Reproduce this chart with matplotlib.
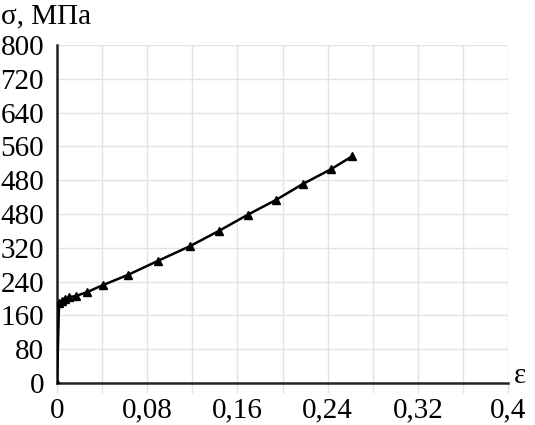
import matplotlib
matplotlib.use('Agg')
import matplotlib.pyplot as plt
import numpy as np

# strain / stress
strain = [0.0, 0.0018, 0.0044, 0.0071, 0.0106, 0.0168, 0.0266, 0.041, 0.063,
          0.0895, 0.118, 0.1436, 0.169, 0.194, 0.218, 0.243, 0.262]
stress = [0, 189, 194, 199, 203, 206, 215, 232, 256,
          289, 324, 360, 398, 433, 471, 506, 537]

y_ticks = [0, 80, 160, 240, 320, 400, 480, 560, 640, 720, 800]
# the source labels 400 as "480", kept as it is
y_labels = ['0', '80', '160', '240', '320', '480', '480', '560', '640', '720', '800']
x_ticks = [0, 0.08, 0.16, 0.24, 0.32, 0.4]
x_labels = ['0', '0,08', '0,16', '0,24', '0,32', '0,4']

plt.rcParams['font.family'] = ['Liberation Serif', 'DejaVu Serif']
fs = 21

fig = plt.figure(figsize=(5.35, 4.25), dpi=100)
ax = fig.add_axes([57 / 535, 1 - 383 / 425, 451 / 535, 338 / 425])

ax.plot(strain, stress, color='black', linewidth=1.8, marker='^',
        markersize=5.5, markerfacecolor='black', zorder=3)

ax.set_xlim(0, 0.4)
ax.set_ylim(0, 800)

ax.set_yticks(y_ticks)
ax.set_yticklabels(y_labels)
ax.set_xticks(x_ticks)
ax.set_xticklabels(x_labels)
ax.set_xticks(np.arange(0.04, 0.41, 0.08), minor=True)

# faint grid, vertical every 0.04, horizontal every 80
ax.grid(True, which='both', color='#e3e3e3', linewidth=1.0, zorder=0)
ax.set_axisbelow(True)

ax.tick_params(axis='y', length=0, pad=9.3, labelsize=fs)
ax.tick_params(axis='x', which='both', length=7, color='#e3e3e3', width=1.0,
               pad=3.5, labelsize=fs)

for side in ('top', 'right'):
    ax.spines[side].set_visible(False)
for side in ('left', 'bottom'):
    ax.spines[side].set_linewidth(1.8)
    ax.spines[side].set_color('#222222')

fig.text(0.002, 1 - 16 / 425, 'σ, МПа', fontsize=fs, ha='left', va='center')
fig.text(514 / 535, 1 - 376 / 425, 'ε', fontsize=fs, ha='left', va='center')

fig.savefig('out.png', dpi=100)
